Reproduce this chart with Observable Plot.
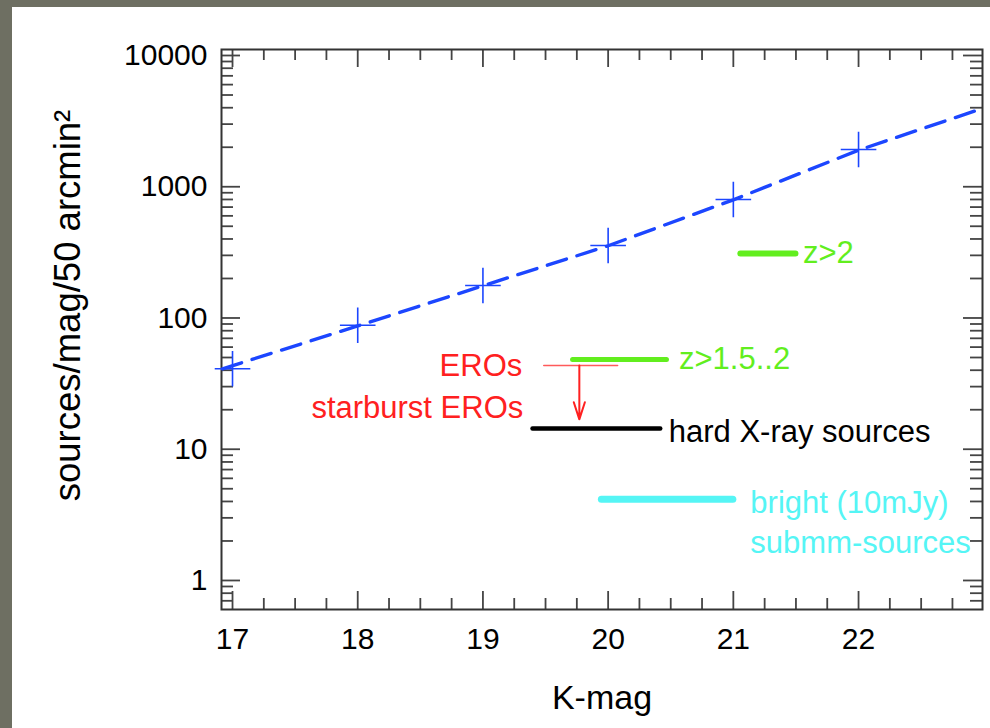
<!DOCTYPE html>
<html><head><meta charset="utf-8">
<script src="https://cdn.jsdelivr.net/npm/d3@7"></script>
<script src="https://cdn.jsdelivr.net/npm/@observablehq/plot@0.6"></script>
<style>
html,body{margin:0;padding:0;background:#fff;}
#wrap{position:relative;width:990px;height:728px;overflow:hidden;background:#fff;}
#wrap svg{position:absolute;left:0;top:0;}
.bar{position:absolute;background:#6e6f62;}
</style></head><body>
<div id="wrap"></div>
<script>
// measured number counts (crosses)
const countK = [17, 18, 19, 20, 21, 22];
const countN = [41, 88, 177, 357, 800, 1920];
// dashed fit line
const fitK = [16.92, 18, 19, 20, 21, 22, 22.99];
const fitN = [41, 87, 176, 355, 795, 1900, 3950];
// horizontal segments (source populations)
const segLabels = ["z>2", "z>1.5..2", "EROs", "hard X-ray sources", "bright (10mJy)\nsubmm-sources"];
const segX1 = [21.06, 19.72, 19.49, 19.40, 19.95];
const segX2 = [21.50, 20.47, 20.08, 20.42, 21.00];
const segN  = [310, 48.3, 43.5, 14.4, 4.15];
// starburst EROs upper-limit arrow
const arrowLabel = "starburst EROs";
const arrowK = 19.77, arrowFrom = 43.5, arrowTo = 16.9;
// ticks
const xMajor = [17, 18, 19, 20, 21, 22];
const xMinor = d3.range(17, 23, 0.25).filter(v => v % 1 !== 0);
const yMajor = [1, 10, 100, 1000, 10000];
const yMinor = [0.7, 0.8, 0.9].concat(...[1, 10, 100, 1000].map(d => d3.range(2, 10).map(m => m * d)));

const segColors = ["#62ee1e", "#62ee1e", "#ff5a5a", "#000000", "#55f5f5"];
const segWidths = [6, 5, 1.5, 4.5, 7];
const blue = "#1c46ff";
const red = "#ff2020";

const W = 990, H = 728, mL = 221, mR = 8, mT = 49, mB = 119;
const innerH = H - mT - mB, innerW = W - mL - mR;

const segs = segLabels.map((t, i) => ({t, x1: segX1[i], x2: segX2[i], n: segN[i], c: segColors[i], w: segWidths[i]}));
const counts = countK.map((k, i) => ({k, n: countN[i]}));
const fit = fitK.map((k, i) => ({k, n: fitN[i]}));

const tickStyle = {stroke: "#444", strokeWidth: 1.8};

const chart = Plot.plot({
  width: W, height: H,
  marginLeft: mL, marginRight: mR, marginTop: mT, marginBottom: mB,
  style: {fontFamily: "Liberation Sans, Arial, Helvetica, sans-serif", fontSize: "30px", color: "#000", background: "transparent"},
  x: {domain: [16.912, 22.99], axis: null},
  y: {type: "log", domain: [0.601, 11110], axis: null},
  marks: [
    // inward ticks, all four sides
    Plot.ruleX(xMajor, {...tickStyle, insetTop: innerH - 18}),
    Plot.ruleX(xMinor, {...tickStyle, insetTop: innerH - 11}),
    Plot.ruleX(xMajor, {...tickStyle, insetBottom: innerH - 18}),
    Plot.ruleX(xMinor, {...tickStyle, insetBottom: innerH - 11}),
    Plot.ruleY(yMajor, {...tickStyle, insetRight: innerW - 19}),
    Plot.ruleY(yMinor, {...tickStyle, insetRight: innerW - 12}),
    Plot.ruleY(yMajor, {...tickStyle, insetLeft: innerW - 19}),
    Plot.ruleY(yMinor, {...tickStyle, insetLeft: innerW - 12}),
    Plot.frame({stroke: "#333", strokeWidth: 2}),
    Plot.axisX(xMajor, {tickSize: 0, tickPadding: 18, fontSize: 30, tickFormat: d => String(d), label: null}),
    Plot.axisY(yMajor, {tickSize: 0, tickPadding: 14, fontSize: 30, tickFormat: d3.format("d"), label: null}),
    // segments
    Plot.ruleY(segs, {y: "n", x1: "x1", x2: "x2", stroke: "c", strokeWidth: "w", strokeLinecap: "round"}),
    Plot.arrow([0], {x1: arrowK, x2: arrowK, y1: arrowFrom, y2: arrowTo, stroke: red, strokeWidth: 2, headLength: 24, headAngle: 36}),
    // fit + counts
    Plot.line(fit, {x: "k", y: "n", stroke: blue, strokeWidth: 3.4, strokeDasharray: "20,11"}),
    Plot.dot(counts, {x: "k", y: "n", symbol: "plus", r: 11.5, stroke: blue, strokeWidth: 1.6}),
    // labels
    Plot.text([segs[0]], {x: "x2", y: "n", text: "t", fill: segColors[0], textAnchor: "start", dx: 7, fontSize: 31}),
    Plot.text([segs[1]], {x: "x2", y: "n", text: "t", fill: segColors[1], textAnchor: "start", dx: 12, fontSize: 31}),
    Plot.text([segs[2]], {x: "x1", y: "n", text: "t", fill: red, textAnchor: "end", dx: -22, dy: 1, fontSize: 31}),
    Plot.text([arrowLabel], {x: segX1[2], y: arrowTo, text: d => d, fill: red, textAnchor: "end", dx: -21, dy: -11, fontSize: 31}),
    Plot.text([segs[3]], {x: "x2", y: "n", text: "t", fill: "#000", textAnchor: "start", dx: 8, dy: 4, fontSize: 31}),
    Plot.text([segs[4]], {x: "x2", y: "n", text: "t", fill: segColors[4], textAnchor: "start", dx: 17, dy: 21, lineHeight: 1.3, fontSize: 31}),
    // axis titles
    Plot.text(["K-mag"], {frameAnchor: "bottom", text: d => d, textAnchor: "middle", dy: 99, fontSize: 34, fill: "#000"}),
    Plot.text(["sources/mag/50 arcmin²"], {frameAnchor: "left", text: d => d, rotate: -90, textAnchor: "middle", dx: -142, dy: -24, lineAnchor: "bottom", fontSize: 36.5, fill: "#000"})
  ]
});

const wrap = document.getElementById("wrap");
wrap.appendChild(chart);
const barTop = document.createElement("div");
barTop.className = "bar"; barTop.style.cssText = "left:0;top:0;width:990px;height:7px;";
const barLeft = document.createElement("div");
barLeft.className = "bar"; barLeft.style.cssText = "left:0;top:0;width:12px;height:728px;";
wrap.appendChild(barTop); wrap.appendChild(barLeft);
</script>
</body></html>
